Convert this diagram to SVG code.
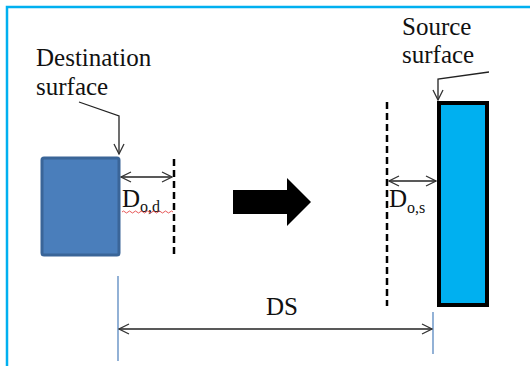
<svg xmlns="http://www.w3.org/2000/svg" width="530" height="366" viewBox="0 0 530 366">
<defs>
<style>
.t{font-family:"Liberation Serif","Times New Roman",serif;fill:#111;}
.c{stroke:#222;stroke-width:1.3;fill:none;}
.dash{stroke:#000;stroke-width:2.5;stroke-dasharray:7,4;fill:none;}
.ext{stroke:#4a7ebb;stroke-width:1.2;fill:none;}
</style>
<marker id="ah" viewBox="0 0 12 12" refX="11" refY="6" markerWidth="12" markerHeight="12" markerUnits="userSpaceOnUse" orient="auto-start-reverse">
<path d="M1,1 L11,6 L1,11" fill="none" stroke="#333" stroke-width="1.3"/>
</marker>
</defs>
<rect width="530" height="366" fill="#fff"/>
<path d="M7,366 V7 H530" fill="none" stroke="#00b0f0" stroke-width="2.5"/>

<g id="destination">
<rect x="42" y="158" width="77" height="97" rx="2" fill="#4a7ebb" stroke="#3a6598" stroke-width="3"/>
</g>
<g id="source">
<rect x="439" y="103" width="48" height="202" fill="#00b0f0" stroke="#000" stroke-width="4"/>
</g>
<g id="move-arrow">
<polygon points="233,190 287,190 287,178 311,202 287,226 287,214 233,214" fill="#000"/>
</g>
<g id="dest-label">
<text class="t" x="36" y="66" font-size="25">Destination</text>
<text class="t" x="36" y="95" font-size="25">surface</text>
</g>
<g id="source-label">
<text class="t" x="402" y="35" font-size="25">Source</text>
<text class="t" x="402" y="63" font-size="25">surface</text>
</g>
<g id="dod-label">
<text class="t" x="122" y="207" font-size="25">D<tspan font-size="16" dy="5">o,d</tspan></text>
<path d="M122,212 q1.5,-2 3,0 t3,0 t3,0 t3,0 t3,0 t3,0 t3,0 t3,0 t3,0 t3,0 t3,0 t3,0 t3,0 t3,0 t3,0 t3,0 t3,0" fill="none" stroke="#e03030" stroke-width="0.8"/>
</g>
<g id="dos-label">
<text class="t" x="389" y="207" font-size="25">D<tspan font-size="16" dy="6">o,s</tspan></text>
</g>
<g id="ds-label">
<text class="t" x="282" y="315" font-size="25" text-anchor="middle">DS</text>
</g>

<g id="connectors">
<path class="c" d="M79,102 L119,116 L119,154" marker-end="url(#ah)"/>
<path class="c" d="M489,72 L438,79 L438,100" marker-end="url(#ah)"/>
<path class="dash" d="M174,159 V257"/>
<path class="dash" d="M387,102 V306"/>
<path class="c" d="M121,177 H172" marker-start="url(#ah)" marker-end="url(#ah)"/>
<path class="c" d="M389,181 H436" marker-start="url(#ah)" marker-end="url(#ah)"/>
<path class="ext" d="M118,276 V361"/>
<path class="ext" d="M433,312 V354"/>
<path class="c" d="M119,329 H432" marker-start="url(#ah)" marker-end="url(#ah)"/>
</g>
</svg>
